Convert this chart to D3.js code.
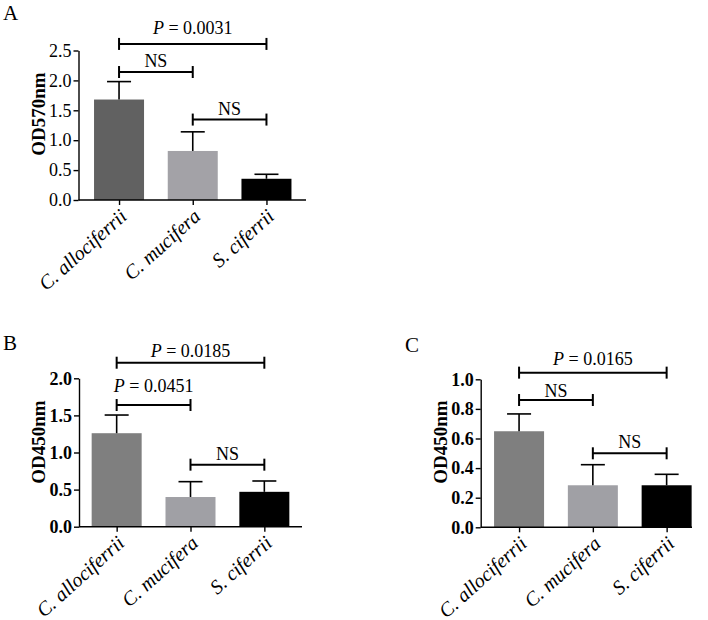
<!DOCTYPE html>
<html>
<head>
<meta charset="utf-8">
<script src="https://cdn.jsdelivr.net/npm/d3@7"></script>
<style>
  body { margin: 0; background: #fff; }
</style>
</head>
<body>
<svg id="fig" width="708" height="620"></svg>
<script>
var FONT = "Liberation Serif";

// categories shared by all three panels
var species = ["C. allociferrii", "C. mucifera", "S. ciferrii"];

// panel A: OD570nm
var meanA = [1.68, 0.82, 0.355];
var errA = [0.30, 0.32, 0.075];
var ticksA = [0, 0.5, 1.0, 1.5, 2.0, 2.5];
var compA = [
  {a: 0, b: 2, p: "0.0031"},
  {a: 0, b: 1, p: null},
  {a: 1, b: 2, p: null}
];

// panel B: OD450nm
var meanB = [1.26, 0.40, 0.47];
var errB = [0.245, 0.207, 0.146];
var ticksB = [0, 0.5, 1.0, 1.5, 2.0];
var compB = [
  {a: 0, b: 2, p: "0.0185"},
  {a: 0, b: 1, p: "0.0451"},
  {a: 1, b: 2, p: null}
];

// panel C: OD450nm
var meanC = [0.649, 0.284, 0.284];
var errC = [0.117, 0.139, 0.074];
var ticksC = [0, 0.2, 0.4, 0.6, 0.8, 1.0];
var compC = [
  {a: 0, b: 2, p: "0.0165"},
  {a: 0, b: 1, p: null},
  {a: 1, b: 2, p: null}
];

var svg = d3.select("#fig");
svg.append("rect").attr("width", 708).attr("height", 620).attr("fill", "#fff");

// layout of each panel (pixels), bracket heights in data units
var panels = [
  {letter: "A", lx: 3, ly: 20, ylab: "OD570nm", mean: meanA, err: errA, ticks: ticksA, comp: compA,
   x0: 78.5, x1: 307, pad: 0.55, xEnd: 306, yTop: 50.5, yBot: 200, max: 2.5, boldTicks: false,
   colors: ["#616161", "#a3a2a7", "#000"], levels: [2.61, 2.14, 1.345], gaps: [10, 5, 5], labY: 114},
  {letter: "B", lx: 3, ly: 350, ylab: "OD450nm", mean: meanB, err: errB, ticks: ticksB, comp: compB,
   x0: 79, x1: 302, pad: 0.51, xEnd: 302, yTop: 378.3, yBot: 526.7, max: 2.0, boldTicks: true,
   colors: ["#7f7f7f", "#a0a0a5", "#000"], levels: [2.21, 1.64, 0.836], gaps: [6, 13, 5], labY: 442},
  {letter: "C", lx: 405, ly: 352, ylab: "OD450nm", mean: meanC, err: errC, ticks: ticksC, comp: compC,
   x0: 480.7, x1: 705, pad: 0.52, xEnd: 692, yTop: 379.3, yBot: 527.3, max: 1.0, boldTicks: true,
   colors: ["#7f7f7f", "#a0a0a5", "#000"], levels: [1.045, 0.86, 0.5], gaps: [8, 3, 5], labY: 442}
];

panels.forEach(function(p) {
  var g = svg.append("g");

  var x = d3.scalePoint().domain(species).range([p.x0, p.x1]).padding(p.pad);
  var y = d3.scaleLinear().domain([0, p.max]).range([p.yBot, p.yTop]);
  var barW = 50;

  g.append("text")
    .attr("x", p.lx).attr("y", p.ly)
    .style("font-family", FONT)
    .style("font-size", "21px")
    .text(p.letter);

  // bars
  g.selectAll(".bar")
    .data(p.mean)
    .enter().append("rect")
    .attr("x", function(d, i) { return x(species[i]) - barW / 2; })
    .attr("y", function(d) { return y(d); })
    .attr("width", barW)
    .attr("height", function(d) { return y(0) - y(d); })
    .attr("fill", function(d, i) { return p.colors[i]; });

  // error bars (upper only)
  var eb = g.selectAll(".err")
    .data(p.mean)
    .enter().append("g")
    .attr("stroke", "#000")
    .attr("stroke-width", 1.6);
  eb.append("line")
    .attr("x1", function(d, i) { return x(species[i]); })
    .attr("x2", function(d, i) { return x(species[i]); })
    .attr("y1", function(d) { return y(d); })
    .attr("y2", function(d, i) { return y(d + p.err[i]); });
  eb.append("line")
    .attr("x1", function(d, i) { return x(species[i]) - 12; })
    .attr("x2", function(d, i) { return x(species[i]) + 12; })
    .attr("y1", function(d, i) { return y(d + p.err[i]); })
    .attr("y2", function(d, i) { return y(d + p.err[i]); });

  // y axis
  var yAxis = g.append("g")
    .attr("transform", "translate(" + p.x0 + ",0)")
    .call(d3.axisLeft(y).tickValues(p.ticks).tickFormat(d3.format(".1f"))
      .tickSize(5).tickSizeOuter(0).tickPadding(2));
  yAxis.selectAll("text")
    .style("font-family", FONT)
    .style("font-size", "18px")
    .style("font-weight", p.boldTicks ? "bold" : "normal")
    .attr("fill", "#000");
  yAxis.selectAll("line, path").attr("stroke", "#000").attr("stroke-width", 1.4);

  g.append("text")
    .attr("transform", "translate(" + (p.x0 - 34) + "," + p.labY + ") rotate(-90)")
    .attr("text-anchor", "middle")
    .style("font-family", FONT)
    .style("font-size", "19px")
    .style("font-weight", "bold")
    .text(p.ylab);

  // x axis
  var xAxis = g.append("g")
    .attr("transform", "translate(0," + p.yBot + ")")
    .call(d3.axisBottom(x).tickSize(5).tickSizeOuter(0).tickFormat(""));
  xAxis.select(".domain").remove();
  xAxis.selectAll("line").attr("stroke", "#000").attr("stroke-width", 1.4);
  g.append("line")
    .attr("x1", p.x0).attr("x2", p.xEnd)
    .attr("y1", p.yBot).attr("y2", p.yBot)
    .attr("stroke", "#000").attr("stroke-width", 1.4);

  g.selectAll(".xlab")
    .data(species)
    .enter().append("text")
    .attr("transform", function(d) { return "translate(" + (x(d) + 9) + "," + (p.yBot + 18) + ") rotate(-42)"; })
    .attr("text-anchor", "end")
    .style("font-family", FONT)
    .style("font-size", "20px")
    .style("font-style", "italic")
    .text(function(d) { return d; });

  // significance brackets
  p.comp.forEach(function(c, k) {
    var yy = y(p.levels[k]);
    var xa = x(species[c.a]), xb = x(species[c.b]);
    var br = g.append("g").attr("stroke", "#000").attr("stroke-width", 2);
    br.append("line").attr("x1", xa).attr("x2", xb).attr("y1", yy).attr("y2", yy);
    br.append("line").attr("x1", xa).attr("x2", xa).attr("y1", yy - 6).attr("y2", yy + 6);
    br.append("line").attr("x1", xb).attr("x2", xb).attr("y1", yy - 6).attr("y2", yy + 6);

    var t = g.append("text")
      .attr("x", (xa + xb) / 2)
      .attr("y", yy - p.gaps[k])
      .attr("text-anchor", "middle")
      .style("font-family", FONT)
      .style("font-size", "18px");
    if (c.p === null) {
      t.text("NS");
    } else {
      t.append("tspan").style("font-style", "italic").text("P");
      t.append("tspan").text(" = " + c.p);
    }
  });
});
</script>
</body>
</html>
